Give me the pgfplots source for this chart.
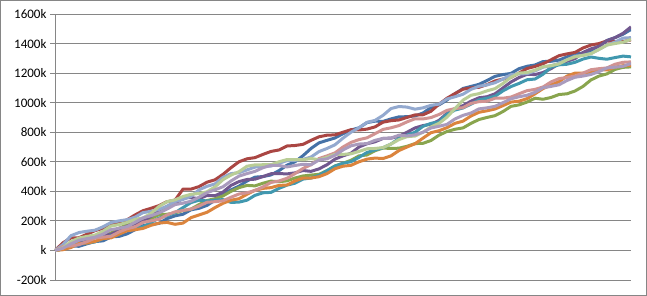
\documentclass[border=0pt]{standalone}
\usepackage{pgfplots}
\pgfplotsset{compat=1.18}
\usepackage{pgfplotstable}
\usepackage{fontspec}
\setmainfont{Carlito}
\definecolor{cBlue}{HTML}{4572A7}
\definecolor{cRed}{HTML}{AA4643}
\definecolor{cGreen}{HTML}{89A54E}
\definecolor{cPurple}{HTML}{71588F}
\definecolor{cAqua}{HTML}{4198AF}
\definecolor{cOrange}{HTML}{DB843D}
\definecolor{cLBlue}{HTML}{93A9CF}
\definecolor{cPink}{HTML}{D19392}
\definecolor{cLGreen}{HTML}{B9CD96}
\definecolor{cLPurple}{HTML}{A99BBD}
\definecolor{gridgray}{HTML}{868686}
\pgfplotstableread{
x blue red green purple aqua orange lblue pink lgreen lpurple
0 0 0 0 0 0 0 0 0 0 0
8 23 52 10 26 9 5 40 27 18 15
16 30 85 35 40 25 20 100 30 60 45
24 28 86 63 50 48 47 121 39 84 69
32 45 110 70 70 50 50 130 60 95 80
40 60 134 85 96 58 61 137 84 104 90
48 65 150 110 100 80 80 160 90 130 110
56 92 180 118 109 100 85 189 96 165 141
64 95 190 150 135 110 110 200 125 175 150
72 112 207 174 165 142 133 208 147 189 161
80 140 240 185 180 150 140 225 160 210 190
88 167 269 191 201 160 149 256 190 220 220
96 175 285 215 230 190 170 265 200 250 235
104 183 303 242 270 219 185 277 212 298 254
112 215 330 245 290 235 190 300 240 330 280
120 234 340 254 316 255 177 331 261 342 310
128 245 415 270 355 290 185 345 270 365 320
136 275 415 280 358 324 222 366 280 380 333
144 285 432 310 350 340 240 410 300 385 360
152 305 462 338 372 335 258 434 326 397 391
160 340 478 350 370 340 290 450 330 430 410
168 381 515 369 395 344 319 495 336 479 431
176 410 560 400 440 325 340 520 360 510 470
184 435 600 425 466 327 350 526 382 533 503
192 470 620 440 480 340 380 545 390 570 520
200 496 628 437 482 373 407 564 406 579 535
208 500 650 455 500 390 420 570 430 580 560
216 511 670 469 519 393 425 571 460 580 576
224 540 680 465 520 420 440 590 470 600 575
232 577 707 471 518 442 443 608 488 615 565
240 600 710 490 525 455 470 610 520 615 575
248 641 718 504 541 483 490 616 555 614 583
256 690 745 510 535 490 490 632 580 622 580
264 728 769 515 552 508 499 669 622 614 612
272 745 780 540 580 540 520 690 640 630 620
280 761 782 572 618 571 553 715 660 650 644
288 790 800 590 640 590 570 760 700 650 680
296 815 817 610 658 601 576 800 731 654 708
304 830 815 640 700 630 600 830 750 670 720
312 865 821 646 722 663 618 867 762 688 723
320 875 836 675 735 680 625 880 790 690 745
328 873 868 693 758 695 622 914 819 696 758
336 890 878 690 760 720 640 960 830 720 760
344 904 883 692 773 758 676 974 845 750 780
352 905 900 705 800 780 700 970 870 770 775
360 910 917 723 829 800 722 956 891 774 782
368 930 918 725 845 840 760 965 890 800 800
376 967 942 744 854 860 797 982 899 836 829
384 985 990 780 880 870 810 990 920 860 840
392 1018 1030 805 928 922 831 1025 948 902 853
400 1060 1062 820 960 950 860 1040 960 960 890
408 1096 1091 829 980 964 875 1057 966 1017 914
416 1110 1100 860 1010 990 910 1090 995 1050 930
424 1124 1104 886 1033 1019 935 1111 1007 1061 958
432 1150 1122 900 1040 1030 945 1120 1010 1080 965
440 1178 1147 912 1060 1043 957 1135 1030 1095 975
448 1190 1160 940 1100 1080 980 1160 1030 1130 1000
456 1198 1171 975 1140 1109 1004 1189 1038 1172 1026
464 1230 1200 985 1170 1130 1010 1195 1060 1200 1040
472 1246 1231 1004 1192 1155 1027 1196 1081 1204 1050
480 1255 1245 1030 1190 1160 1060 1215 1090 1220 1070
488 1278 1263 1023 1204 1192 1095 1240 1106 1244 1101
496 1280 1290 1035 1230 1240 1120 1250 1140 1250 1110
504 1288 1318 1055 1264 1256 1142 1266 1163 1262 1121
512 1310 1330 1060 1280 1260 1180 1290 1170 1290 1150
520 1329 1340 1079 1298 1273 1200 1315 1180 1310 1172
528 1335 1370 1110 1340 1295 1200 1320 1200 1320 1180
536 1351 1390 1154 1364 1309 1208 1333 1223 1332 1191
544 1385 1400 1180 1380 1300 1225 1360 1230 1360 1210
552 1421 1418 1195 1420 1294 1221 1390 1235 1390 1235
560 1440 1412 1225 1440 1305 1240 1410 1260 1400 1240
568 1463 1413 1239 1469 1315 1250 1437 1273 1409 1246
576 1495 1425 1242 1513 1310 1253 1440 1276 1428 1265
}\walks
\begin{document}
\begin{tikzpicture}[x=1pt,y=1pt]
\useasboundingbox (0,0) rectangle (647,296);
\draw[color=gridgray, line width=1pt] (0.5,0.5) rectangle (646.5,295.5);
\begin{axis}[
  at={(55pt,16pt)}, anchor=south west,
  scale only axis, width=576pt, height=266pt,
  xmin=0, xmax=576, ymin=-200, ymax=1600,
  axis x line=none, axis y line*=left,
  ytick={-200,0,200,400,600,800,1000,1200,1400,1600},
  yticklabels={-200k,k,200k,400k,600k,800k,1000k,1200k,1400k,1600k},
  ymajorgrids,
  grid style={color=gridgray, line width=0.9pt},
  y axis line style={color=gridgray, line width=0.9pt, -},
  tick align=outside, major tick length=5pt,
  tick style={color=gridgray, line width=0.9pt},
  yticklabel style={font=\fontsize{13}{15}\selectfont, text=black},
  every axis plot/.append style={line width=3pt, line join=round, no marks},
]
\addplot[cBlue] table[x=x, y=blue] {\walks};
\addplot[cRed] table[x=x, y=red] {\walks};
\addplot[cGreen] table[x=x, y=green] {\walks};
\addplot[cPurple] table[x=x, y=purple] {\walks};
\addplot[cAqua] table[x=x, y=aqua] {\walks};
\addplot[cOrange] table[x=x, y=orange] {\walks};
\addplot[cLBlue] table[x=x, y=lblue] {\walks};
\addplot[cPink] table[x=x, y=pink] {\walks};
\addplot[cLGreen] table[x=x, y=lgreen] {\walks};
\addplot[cLPurple] table[x=x, y=lpurple] {\walks};
\end{axis}
\end{tikzpicture}
\end{document}
